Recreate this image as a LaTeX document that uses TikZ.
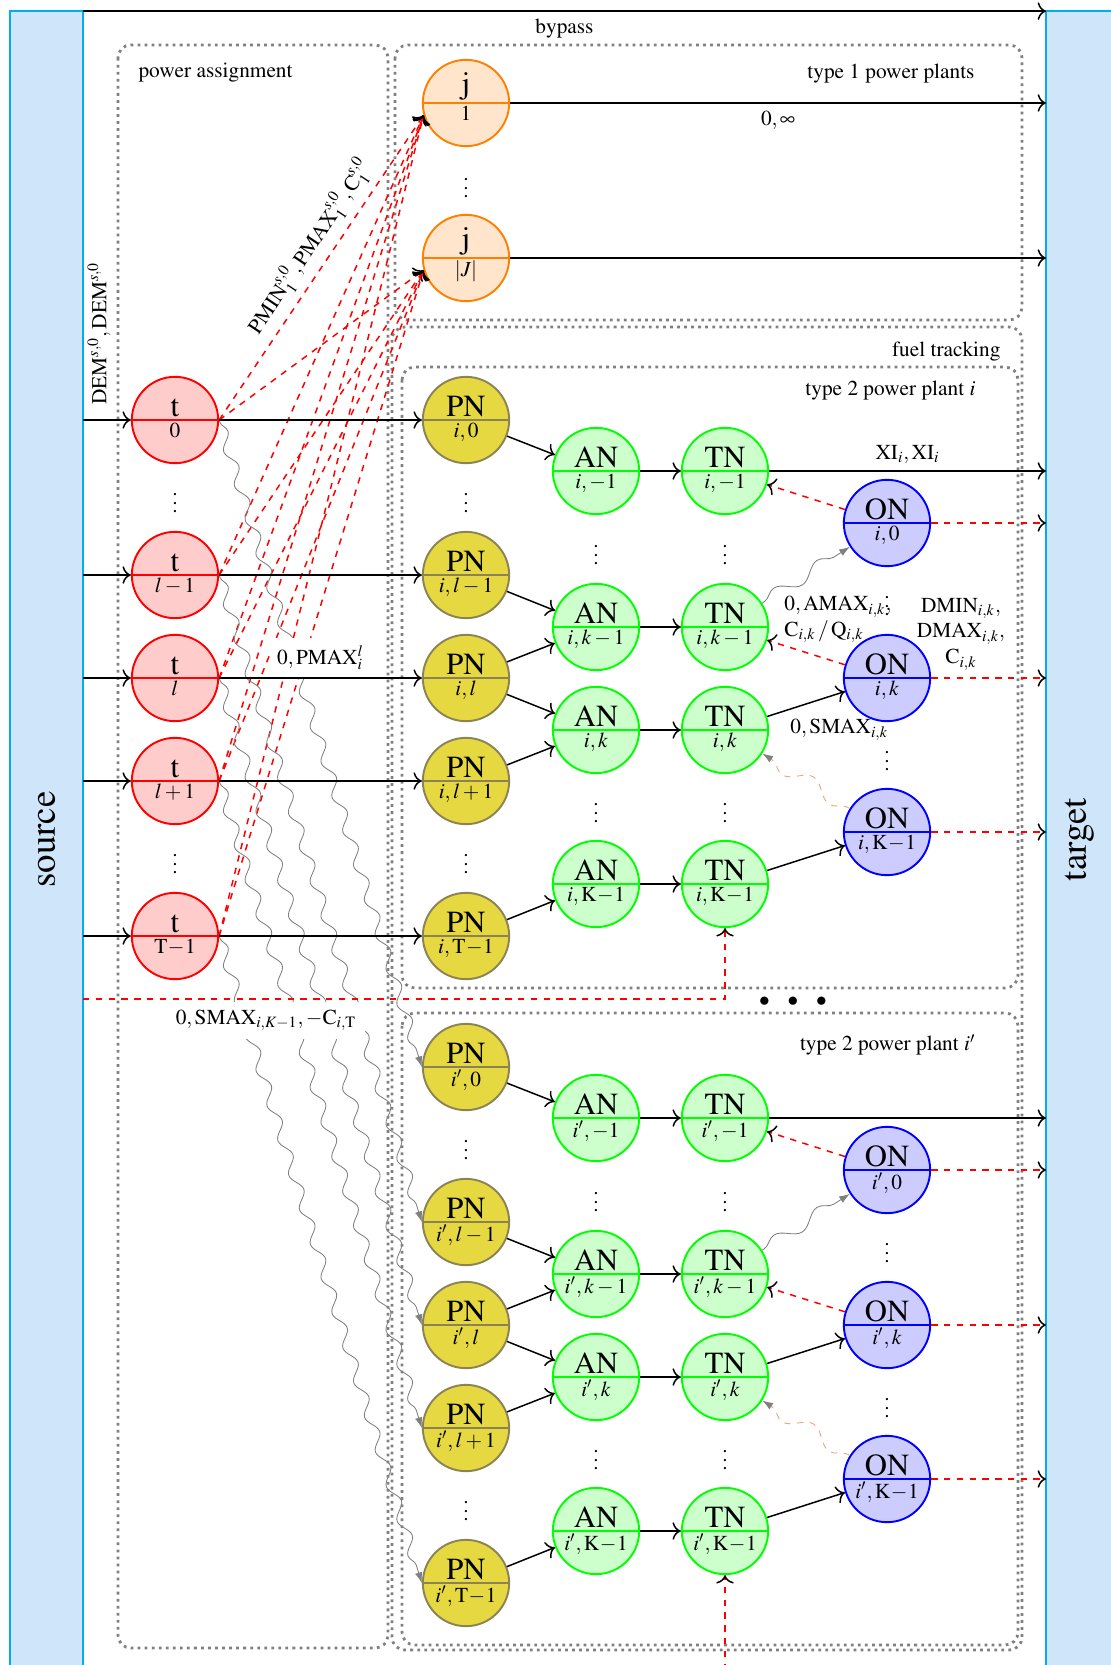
\documentclass[tikz,border=0pt]{standalone}
\usepackage[T1]{fontenc}
\usepackage{mathptmx}
\usepackage{amsmath}
\usetikzlibrary{arrows.meta,positioning,shapes.multipart,decorations.pathmorphing}

\definecolor{barfill}{RGB}{207,230,250}
\definecolor{bardraw}{RGB}{0,174,239}
\definecolor{pnfill}{RGB}{229,216,64}
\definecolor{pndraw}{RGB}{140,130,85}
\definecolor{snakeorange}{RGB}{235,160,120}

\newcommand{\twopart}[2]{#1\nodepart{lower}\normalsize#2}

\begin{document}
\begin{tikzpicture}[
    x=0.469pt, y=-0.469pt,
    partnode/.style={circle split, line width=0.9pt, minimum size=40.5pt, inner sep=1pt, font=\Large},
    tnode/.style={partnode, draw=red, fill=red!20},
    jnode/.style={partnode, draw=orange, fill=orange!20},
    pnode/.style={partnode, draw=pndraw, fill=pnfill},
    anode/.style={partnode, draw=green, fill=green!20},
    onode/.style={partnode, draw=blue, fill=blue!20},
    bar/.style={draw=bardraw, fill=barfill, line width=1pt, inner sep=0pt, outer sep=0pt, font=\LARGE},
    region/.style={draw=gray, dotted, line width=1.3pt, rounded corners=6pt},
    flow/.style={-{To[scale=1.25]}, line width=0.7pt},
    cost/.style={draw=red, dashed, line width=0.7pt, -{To[scale=1.25, color=black]}},
    wavy/.style={draw=gray, decorate, decoration={snake, amplitude=2.4pt, segment length=17pt, pre length=1pt, post length=5pt}, -{Latex[length=5pt, width=3.5pt]}},
    owavy/.style={draw=snakeorange, dashed, decorate, decoration={snake, amplitude=3.5pt, segment length=26pt, pre length=1pt, post length=5pt}, -{Latex[length=5pt, width=3.5pt, color=gray]}}
]
\useasboundingbox (0,0) rectangle (1110,1665);

% regions
\draw[region] (118,45) rectangle (388,1648);
\draw[region] (395,45) rectangle (1022,320);
\draw[region] (392,327) rectangle (1022,1650);
\draw[region] (402,367) rectangle (1018,988);
\draw[region] (402,1013) rectangle (1018,1645);

\node[anchor=west] (pa_lbl) at (131,73) {power assignment};
\node[anchor=east] (t1_lbl) at (982,74) {type 1 power plants};
\node[anchor=east] (ft_lbl) at (1008,352) {fuel tracking};
\node[anchor=east] (t2_lbl) at (983,391) {type 2 power plant $i$};
\node[anchor=east] (t2b_lbl) at (983,1045) {type 2 power plant $i'$};
\node (more) at (793,1002) {$\bullet\hspace{7pt}\bullet\hspace{7pt}\bullet$};

% source and target
\node[bar, minimum width=34.2pt, minimum height=777pt] (source) at (46.5,839.5) {\rotatebox{90}{source}};
\node[bar, minimum width=31.4pt, minimum height=777pt] (target) at (1079.5,839.5) {\rotatebox{90}{target}};

% type 1 plants
\node[jnode] (j_1) at (466,103) {\twopart{j}{$1$}};
\node (j_dots) at (466,182) {$\vdots$};
\node[jnode] (j_J) at (466,258) {\twopart{j}{$|J|$}};

% time steps
\node[tnode] (t_0) at (175,420) {\twopart{t}{$0$}};
\node (t_dots1) at (175,497) {$\vdots$};
\node[tnode] (t_lm) at (175,575) {\twopart{t}{$l-1$}};
\node[tnode] (t_l) at (175,678) {\twopart{t}{$l$}};
\node[tnode] (t_lp) at (175,781) {\twopart{t}{$l+1$}};
\node (t_dots2) at (175,858) {$\vdots$};
\node[tnode] (t_T) at (175,936) {\twopart{t}{$\mathrm{T}\!-\!1$}};

% plant i
\node[pnode] (pn_0) at (466,420) {\twopart{PN}{$i,0$}};
\node (pn_dots1) at (466,497) {$\vdots$};
\node[pnode] (pn_lm) at (466,575) {\twopart{PN}{$i,l-1$}};
\node[pnode] (pn_l) at (466,678) {\twopart{PN}{$i,l$}};
\node[pnode] (pn_lp) at (466,781) {\twopart{PN}{$i,l+1$}};
\node (pn_dots2) at (466,858) {$\vdots$};
\node[pnode] (pn_T) at (466,936) {\twopart{PN}{$i,\mathrm{T}\!-\!1$}};

\node[anode] (an_m1) at (596,471) {\twopart{AN}{$i,-1$}};
\node (an_dots1) at (596,549) {$\vdots$};
\node[anode] (an_km) at (596,627) {\twopart{AN}{$i,k-1$}};
\node[anode] (an_k) at (596,730) {\twopart{AN}{$i,k$}};
\node (an_dots2) at (596,807) {$\vdots$};
\node[anode] (an_K) at (596,884) {\twopart{AN}{$i,\mathrm{K}\!-\!1$}};

\node[anode] (tn_m1) at (725,471) {\twopart{TN}{$i,-1$}};
\node (tn_dots1) at (725,549) {$\vdots$};
\node[anode] (tn_km) at (725,627) {\twopart{TN}{$i,k-1$}};
\node[anode] (tn_k) at (725,730) {\twopart{TN}{$i,k$}};
\node (tn_dots2) at (725,807) {$\vdots$};
\node[anode] (tn_K) at (725,884) {\twopart{TN}{$i,\mathrm{K}\!-\!1$}};

\node[onode] (on_0) at (887,523) {\twopart{ON}{$i,0$}};
\node (on_dots1) at (887,600) {$\vdots$};
\node[onode] (on_k) at (887,678) {\twopart{ON}{$i,k$}};
\node (on_dots2) at (887,755) {$\vdots$};
\node[onode] (on_K) at (887,832) {\twopart{ON}{$i,\mathrm{K}\!-\!1$}};

% plant i'
\node[pnode] (pnb_0) at (466,1067) {\twopart{PN}{$i',0$}};
\node (pnb_dots1) at (466,1144) {$\vdots$};
\node[pnode] (pnb_lm) at (466,1222) {\twopart{PN}{$i',l-1$}};
\node[pnode] (pnb_l) at (466,1325) {\twopart{PN}{$i',l$}};
\node[pnode] (pnb_lp) at (466,1428) {\twopart{PN}{$i',l+1$}};
\node (pnb_dots2) at (466,1505) {$\vdots$};
\node[pnode] (pnb_T) at (466,1583) {\twopart{PN}{$i',\mathrm{T}\!-\!1$}};

\node[anode] (anb_m1) at (596,1118) {\twopart{AN}{$i',-1$}};
\node (anb_dots1) at (596,1196) {$\vdots$};
\node[anode] (anb_km) at (596,1274) {\twopart{AN}{$i',k-1$}};
\node[anode] (anb_k) at (596,1377) {\twopart{AN}{$i',k$}};
\node (anb_dots2) at (596,1454) {$\vdots$};
\node[anode] (anb_K) at (596,1531) {\twopart{AN}{$i',\mathrm{K}\!-\!1$}};

\node[anode] (tnb_m1) at (725,1118) {\twopart{TN}{$i',-1$}};
\node (tnb_dots1) at (725,1196) {$\vdots$};
\node[anode] (tnb_km) at (725,1274) {\twopart{TN}{$i',k-1$}};
\node[anode] (tnb_k) at (725,1377) {\twopart{TN}{$i',k$}};
\node (tnb_dots2) at (725,1454) {$\vdots$};
\node[anode] (tnb_K) at (725,1531) {\twopart{TN}{$i',\mathrm{K}\!-\!1$}};

\node[onode] (onb_0) at (887,1170) {\twopart{ON}{$i',0$}};
\node (onb_dots1) at (887,1247) {$\vdots$};
\node[onode] (onb_k) at (887,1325) {\twopart{ON}{$i',k$}};
\node (onb_dots2) at (887,1402) {$\vdots$};
\node[onode] (onb_K) at (887,1479) {\twopart{ON}{$i',\mathrm{K}\!-\!1$}};

\coordinate (fin) at (83,999);
\coordinate (fin_b) at (725,1670);

% time steps to type 1 plants
\draw[cost] (t_0.east) -- node[sloped, above, pos=0.53] {$\mathrm{PMIN}_1^{s,0},\mathrm{PMAX}_1^{s,0},\mathrm{C}_1^{s,0}$} (j_1.196);
\draw[cost] (t_0.east) -- (j_J.196);
\draw[cost] (t_lm.east) -- (j_1.196);
\draw[cost] (t_lm.east) -- (j_J.196);
\draw[cost] (t_l.east) -- (j_1.196);
\draw[cost] (t_l.east) -- (j_J.196);
\draw[cost] (t_lp.east) -- (j_1.196);
\draw[cost] (t_lp.east) -- (j_J.196);
\draw[cost] (t_T.east) -- (j_1.196);
\draw[cost] (t_T.east) -- (j_J.196);

% time steps to plant i'
\draw[wavy] (t_0.east) -- (pnb_0.west);
\draw[wavy] (t_lm.east) -- (pnb_lm.west);
\draw[wavy] (t_l.east) -- (pnb_l.west);
\draw[wavy] (t_lp.east) -- (pnb_lp.west);
\draw[wavy] (t_T.east) -- (pnb_T.west);

% demand and power assignment
\draw[flow] (source.north east) -- node[below] {bypass} (target.north west);
\draw[flow] (source.east |- t_0) -- (t_0);
\node[rotate=90, anchor=west] (dem_lbl) at (99,412) {$\mathrm{DEM}^{s,0},\mathrm{DEM}^{s,0}$};
\draw[flow] (source.east |- t_lm) -- (t_lm);
\draw[flow] (source.east |- t_l) -- (t_l);
\draw[flow] (source.east |- t_lp) -- (t_lp);
\draw[flow] (source.east |- t_T) -- (t_T);
\draw[flow] (t_0) -- (pn_0);
\draw[flow] (t_lm) -- (pn_lm);
\draw[flow] (t_l) -- node[above, fill=white] {$0,\mathrm{PMAX}_i^l$} (pn_l);
\draw[flow] (t_lp) -- (pn_lp);
\draw[flow] (t_T) -- (pn_T);
\draw[flow] (j_1) -- node[below] {$0,\infty$} (j_1 -| target.west);
\draw[flow] (j_J) -- (j_J -| target.west);

% plant i
\draw[flow] (pn_0) -- (an_m1);
\draw[flow] (pn_lm) -- (an_km);
\draw[flow] (pn_l) -- (an_km);
\draw[flow] (pn_l) -- (an_k);
\draw[flow] (pn_lp) -- (an_k);
\draw[flow] (pn_T) -- (an_K);
\draw[flow] (an_m1) -- (tn_m1);
\draw[flow] (an_km) -- (tn_km);
\draw[flow] (an_k) -- (tn_k);
\draw[flow] (an_K) -- (tn_K);
\draw[flow] (tn_m1) -- node[above] {$\mathrm{XI}_i,\mathrm{XI}_i$} (tn_m1 -| target.west);
\draw[flow] (tn_k) -- node[below right, pos=0.2] {$0,\mathrm{SMAX}_{i,k}$} (on_k);
\draw[flow] (tn_K) -- (on_K);
\draw[wavy, decoration={segment length=24pt, amplitude=3pt}] (tn_km) -- (on_0);
\path (tn_km) -- node[below right, pos=0.2, align=left, inner sep=2pt] {$0,\mathrm{AMAX}_{i,k},$\\$\mathrm{C}_{i,k}\,/\,\mathrm{Q}_{i,k}$} (on_0);
\draw[owavy] (on_K) -- (tn_k);
\draw[cost] (on_0) -- (tn_m1);
\draw[cost] (on_k) -- (tn_km);
\draw[cost] (on_0) -- (on_0 -| target.west);
\draw[cost] (on_k) -- node[above, pos=0.26, align=center] {$\mathrm{DMIN}_{i,k},$\\$\mathrm{DMAX}_{i,k},$\\$\mathrm{C}_{i,k}$} (on_k -| target.west);
\draw[cost] (on_K) -- (on_K -| target.west);
\draw[cost] (fin) -| node[below, pos=0.1425, fill=white, inner sep=4pt, yshift=-1pt] {$0,\mathrm{SMAX}_{i,K-1},-\mathrm{C}_{i,\mathrm{T}}$} (tn_K);

% plant i'
\draw[flow] (pnb_0) -- (anb_m1);
\draw[flow] (pnb_lm) -- (anb_km);
\draw[flow] (pnb_l) -- (anb_km);
\draw[flow] (pnb_l) -- (anb_k);
\draw[flow] (pnb_lp) -- (anb_k);
\draw[flow] (pnb_T) -- (anb_K);
\draw[flow] (anb_m1) -- (tnb_m1);
\draw[flow] (anb_km) -- (tnb_km);
\draw[flow] (anb_k) -- (tnb_k);
\draw[flow] (anb_K) -- (tnb_K);
\draw[flow] (tnb_m1) -- (tnb_m1 -| target.west);
\draw[flow] (tnb_k) -- (onb_k);
\draw[flow] (tnb_K) -- (onb_K);
\draw[wavy, decoration={segment length=24pt, amplitude=3pt}] (tnb_km) -- (onb_0);
\draw[owavy] (onb_K) -- (tnb_k);
\draw[cost] (onb_0) -- (tnb_m1);
\draw[cost] (onb_k) -- (tnb_km);
\draw[cost] (onb_0) -- (onb_0 -| target.west);
\draw[cost] (onb_k) -- (onb_k -| target.west);
\draw[cost] (onb_K) -- (onb_K -| target.west);
\draw[cost] (fin_b) -- (tnb_K);

\end{tikzpicture}
\end{document}
